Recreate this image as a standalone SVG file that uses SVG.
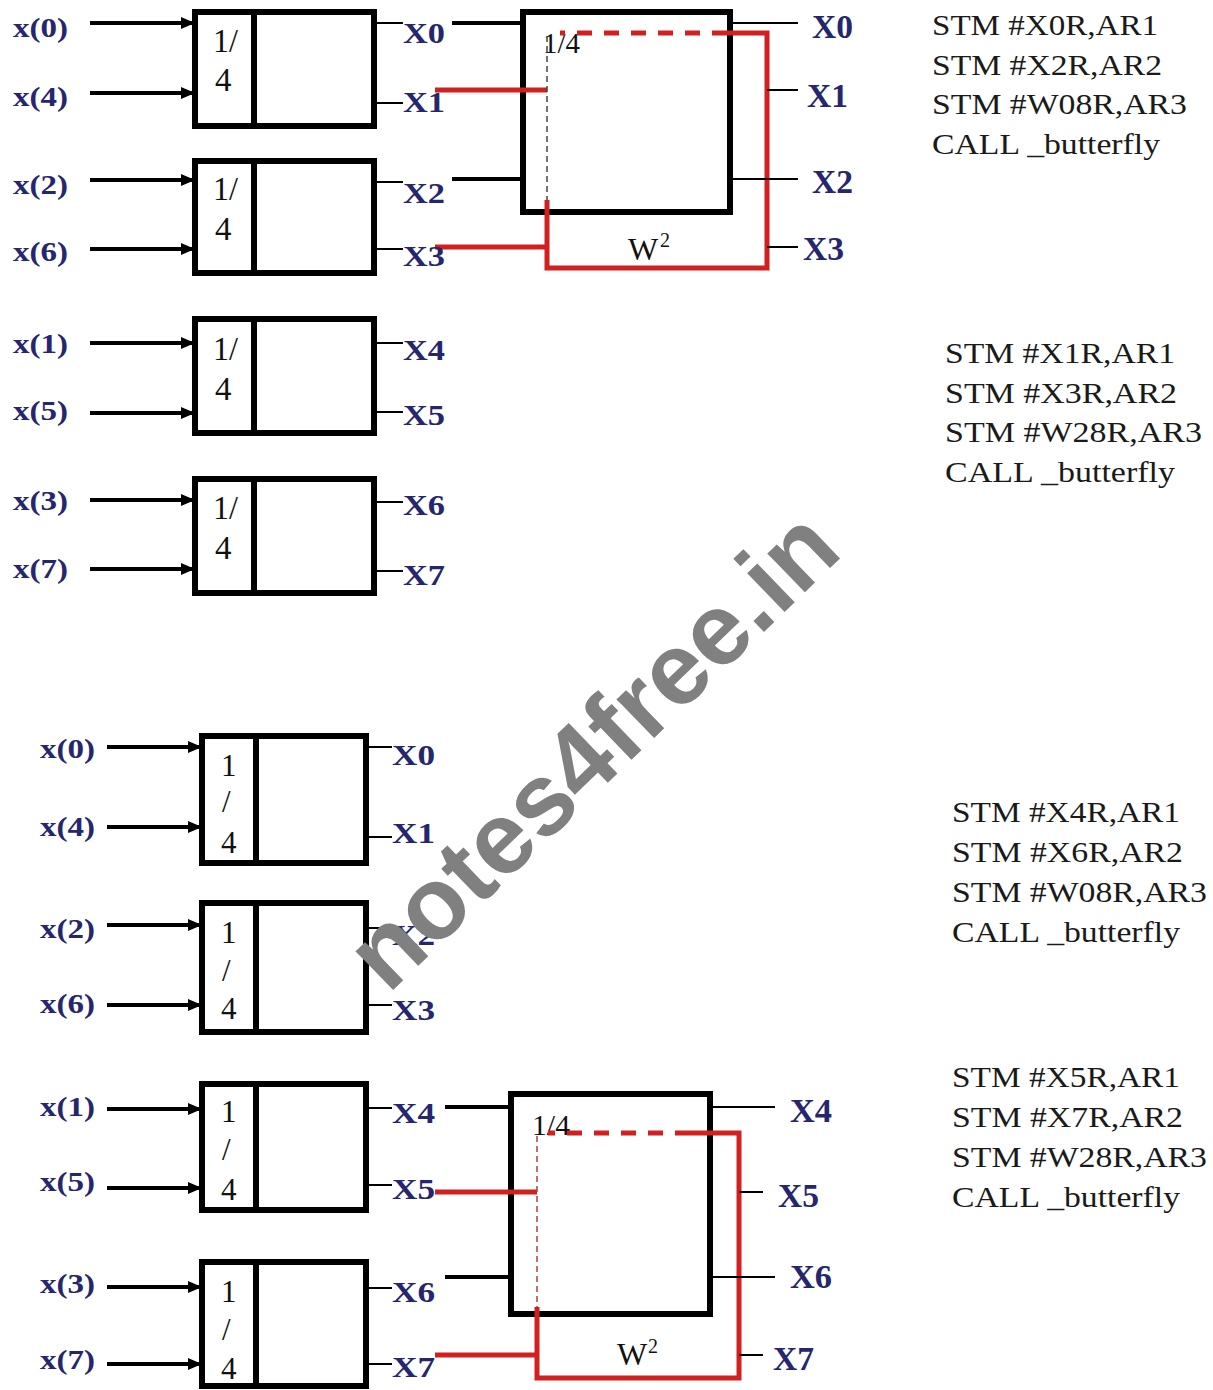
<svg xmlns="http://www.w3.org/2000/svg" width="1213" height="1390" viewBox="0 0 1213 1390">
<style>
.blk{fill:none;stroke:#000;stroke-width:6}
.div{stroke:#000;stroke-width:6}
.in{stroke:#000;stroke-width:4;marker-end:url(#ah)}
.out{stroke:#000;stroke-width:2}
.bin{stroke:#000;stroke-width:4}
.red{stroke:#d21f1f;stroke-width:5;fill:none}
.rdash{stroke:#d21f1f;stroke-width:5;stroke-dasharray:15 12;fill:none}
.tdash{stroke:#444;stroke-width:1.5;stroke-dasharray:6 4;fill:none}
.tdashr{stroke:#b04040;stroke-width:1.5;stroke-dasharray:6 4;fill:none}
.lbl{font-family:"Liberation Serif",serif;font-weight:bold;fill:#26266e;font-size:27px}
.ol{font-family:"Liberation Serif",serif;font-weight:bold;fill:#26266e;font-size:30px}
.or{font-family:"Liberation Serif",serif;font-weight:bold;fill:#26266e;font-size:34px}
.num{font-family:"Liberation Serif",serif;fill:#111;font-size:33px}
.num2{font-family:"Liberation Serif",serif;fill:#111;font-size:31px}
.q{font-family:"Liberation Serif",serif;fill:#111;font-size:30px}
.w{font-family:"Liberation Serif",serif;fill:#111;font-size:32px}
.sup{font-family:"Liberation Serif",serif;fill:#111;font-size:20px}
.code{font-family:"Liberation Serif",serif;fill:#1a1a1a;font-size:29px}
.wm{font-family:"Liberation Sans",Arial,sans-serif;font-weight:bold;fill:#808080;font-size:102px}
</style>
<defs>
<marker id="ah" markerUnits="userSpaceOnUse" markerWidth="14" markerHeight="12" refX="14" refY="6" orient="auto">
<path d="M0,0 L14,6 L0,12 z" fill="#000"/>
</marker>
</defs>
<rect width="1213" height="1390" fill="#fff"/>

<!-- top section blocks -->
<g id="blk1"><rect class="blk" x="195" y="12" width="179" height="114"/><line class="div" x1="254" y1="12" x2="254" y2="126"/><text class="num" x="213" y="52" textLength="25" lengthAdjust="spacingAndGlyphs">1/</text><text class="num" x="215" y="91">4</text></g>
<g id="blk2"><rect class="blk" x="195" y="161" width="179" height="112"/><line class="div" x1="254" y1="161" x2="254" y2="273"/><text class="num" x="213" y="200" textLength="25" lengthAdjust="spacingAndGlyphs">1/</text><text class="num" x="215" y="240">4</text></g>
<g id="blk3"><rect class="blk" x="195" y="319" width="179" height="114"/><line class="div" x1="254" y1="319" x2="254" y2="433"/><text class="num" x="213" y="360" textLength="25" lengthAdjust="spacingAndGlyphs">1/</text><text class="num" x="215" y="400">4</text></g>
<g id="blk4"><rect class="blk" x="195" y="479" width="179" height="114"/><line class="div" x1="254" y1="479" x2="254" y2="593"/><text class="num" x="213" y="519" textLength="25" lengthAdjust="spacingAndGlyphs">1/</text><text class="num" x="215" y="559">4</text></g>

<!-- top butterfly -->
<g id="bf1"><rect class="blk" x="523" y="12" width="207" height="200"/><text class="q" x="543" y="53" textLength="37" lengthAdjust="spacingAndGlyphs">1/4</text><text class="w" x="628" y="260">W</text><text class="sup" x="660" y="247">2</text></g>

<!-- bottom section blocks -->
<g id="blk5"><rect class="blk" x="202" y="736" width="164" height="127"/><line class="div" x1="256" y1="736" x2="256" y2="863"/><text class="num2" x="221" y="776">1</text><text class="num2" x="222" y="812">/</text><text class="num2" x="221" y="853">4</text></g>
<g id="blk6"><rect class="blk" x="202" y="903" width="164" height="129"/><line class="div" x1="256" y1="903" x2="256" y2="1032"/><text class="num2" x="221" y="943">1</text><text class="num2" x="222" y="981">/</text><text class="num2" x="221" y="1019">4</text></g>
<g id="blk7"><rect class="blk" x="202" y="1084" width="164" height="126"/><line class="div" x1="256" y1="1084" x2="256" y2="1210"/><text class="num2" x="221" y="1122">1</text><text class="num2" x="222" y="1160">/</text><text class="num2" x="221" y="1200">4</text></g>
<g id="blk8"><rect class="blk" x="202" y="1262" width="164" height="124"/><line class="div" x1="256" y1="1262" x2="256" y2="1386"/><text class="num2" x="221" y="1302">1</text><text class="num2" x="222" y="1340">/</text><text class="num2" x="221" y="1379">4</text></g>

<!-- bottom butterfly -->
<g id="bf2"><rect class="blk" x="511" y="1094" width="199" height="220"/><text class="q" x="532" y="1135" textLength="38" lengthAdjust="spacingAndGlyphs">1/4</text><text class="w" x="617" y="1365">W</text><text class="sup" x="648" y="1353">2</text></g>

<!-- connectors -->
<g id="connectors">
<line class="in" x1="90" y1="23" x2="195" y2="23"/>
<line class="in" x1="90" y1="93" x2="195" y2="93"/>
<line class="in" x1="90" y1="180" x2="195" y2="180"/>
<line class="in" x1="90" y1="249" x2="195" y2="249"/>
<line class="in" x1="90" y1="343" x2="195" y2="343"/>
<line class="in" x1="90" y1="413" x2="195" y2="413"/>
<line class="in" x1="90" y1="500" x2="195" y2="500"/>
<line class="in" x1="90" y1="569" x2="195" y2="569"/>
<line class="out" x1="374" y1="23" x2="403" y2="23"/>
<line class="out" x1="374" y1="103" x2="403" y2="103"/>
<line class="out" x1="374" y1="182" x2="403" y2="182"/>
<line class="out" x1="374" y1="249" x2="403" y2="249"/>
<line class="out" x1="374" y1="343" x2="403" y2="343"/>
<line class="out" x1="374" y1="412" x2="403" y2="412"/>
<line class="out" x1="374" y1="502" x2="403" y2="502"/>
<line class="out" x1="374" y1="571" x2="403" y2="571"/>
<line class="bin" x1="452" y1="23" x2="523" y2="23"/>
<line class="bin" x1="452" y1="179" x2="523" y2="179"/>
<line class="red" x1="435" y1="90" x2="547" y2="90"/>
<line class="red" x1="435" y1="247" x2="547" y2="247"/>
<line class="tdash" x1="547" y1="36" x2="547" y2="200"/>
<path class="red" d="M547,200 L547,268 L767,268 L767,33 L727,33"/>
<line class="rdash" x1="727" y1="33" x2="560" y2="33"/>
<line class="out" x1="730" y1="23" x2="798" y2="23"/>
<line class="out" x1="767" y1="90" x2="798" y2="90"/>
<line class="out" x1="730" y1="179" x2="798" y2="179"/>
<line class="out" x1="767" y1="247" x2="798" y2="247"/>

<line class="in" x1="107" y1="747" x2="202" y2="747"/>
<line class="in" x1="107" y1="827" x2="202" y2="827"/>
<line class="in" x1="107" y1="925" x2="202" y2="925"/>
<line class="in" x1="107" y1="1005" x2="202" y2="1005"/>
<line class="in" x1="107" y1="1109" x2="202" y2="1109"/>
<line class="in" x1="107" y1="1188" x2="202" y2="1188"/>
<line class="in" x1="107" y1="1287" x2="202" y2="1287"/>
<line class="in" x1="107" y1="1364" x2="202" y2="1364"/>
<line class="out" x1="366" y1="747" x2="392" y2="747"/>
<line class="out" x1="366" y1="837" x2="392" y2="837"/>
<line class="out" x1="366" y1="928" x2="392" y2="928"/>
<line class="out" x1="366" y1="1005" x2="392" y2="1005"/>
<line class="out" x1="366" y1="1108" x2="392" y2="1108"/>
<line class="out" x1="366" y1="1185" x2="392" y2="1185"/>
<line class="out" x1="366" y1="1288" x2="392" y2="1288"/>
<line class="out" x1="366" y1="1364" x2="392" y2="1364"/>
<line class="bin" x1="445" y1="1107" x2="511" y2="1107"/>
<line class="bin" x1="445" y1="1277" x2="511" y2="1277"/>
<line class="red" x1="435" y1="1192" x2="537" y2="1192"/>
<line class="red" x1="435" y1="1355" x2="537" y2="1355"/>
<line class="tdashr" x1="537" y1="1136" x2="537" y2="1307"/>
<path class="red" d="M537,1307 L537,1378 L739,1378 L739,1133 L690,1133"/>
<line class="rdash" x1="690" y1="1133" x2="548" y2="1133"/>
<line class="out" x1="710" y1="1107" x2="775" y2="1107"/>
<line class="out" x1="739" y1="1192" x2="763" y2="1192"/>
<line class="out" x1="710" y1="1277" x2="775" y2="1277"/>
<line class="out" x1="739" y1="1355" x2="763" y2="1355"/>
</g>

<!-- input labels -->
<g id="inlabels">
<text class="lbl" x="13" y="37" textLength="55" lengthAdjust="spacingAndGlyphs">x(0)</text>
<text class="lbl" x="13" y="106" textLength="55" lengthAdjust="spacingAndGlyphs">x(4)</text>
<text class="lbl" x="13" y="194" textLength="55" lengthAdjust="spacingAndGlyphs">x(2)</text>
<text class="lbl" x="13" y="261" textLength="55" lengthAdjust="spacingAndGlyphs">x(6)</text>
<text class="lbl" x="13" y="353" textLength="55" lengthAdjust="spacingAndGlyphs">x(1)</text>
<text class="lbl" x="13" y="420" textLength="55" lengthAdjust="spacingAndGlyphs">x(5)</text>
<text class="lbl" x="13" y="510" textLength="55" lengthAdjust="spacingAndGlyphs">x(3)</text>
<text class="lbl" x="13" y="578" textLength="55" lengthAdjust="spacingAndGlyphs">x(7)</text>
<text class="lbl" x="40" y="758" textLength="55" lengthAdjust="spacingAndGlyphs">x(0)</text>
<text class="lbl" x="40" y="836" textLength="55" lengthAdjust="spacingAndGlyphs">x(4)</text>
<text class="lbl" x="40" y="938" textLength="55" lengthAdjust="spacingAndGlyphs">x(2)</text>
<text class="lbl" x="40" y="1013" textLength="55" lengthAdjust="spacingAndGlyphs">x(6)</text>
<text class="lbl" x="40" y="1116" textLength="55" lengthAdjust="spacingAndGlyphs">x(1)</text>
<text class="lbl" x="40" y="1191" textLength="55" lengthAdjust="spacingAndGlyphs">x(5)</text>
<text class="lbl" x="40" y="1293" textLength="55" lengthAdjust="spacingAndGlyphs">x(3)</text>
<text class="lbl" x="40" y="1369" textLength="55" lengthAdjust="spacingAndGlyphs">x(7)</text>
</g>

<!-- output labels -->
<g id="outlabels">
<text class="ol" x="403" y="43" textLength="42" lengthAdjust="spacingAndGlyphs">X0</text>
<text class="ol" x="403" y="112" textLength="42" lengthAdjust="spacingAndGlyphs">X1</text>
<text class="ol" x="403" y="203" textLength="42" lengthAdjust="spacingAndGlyphs">X2</text>
<text class="ol" x="403" y="266" textLength="42" lengthAdjust="spacingAndGlyphs">X3</text>
<text class="ol" x="403" y="360" textLength="42" lengthAdjust="spacingAndGlyphs">X4</text>
<text class="ol" x="403" y="425" textLength="42" lengthAdjust="spacingAndGlyphs">X5</text>
<text class="ol" x="403" y="515" textLength="42" lengthAdjust="spacingAndGlyphs">X6</text>
<text class="ol" x="403" y="585" textLength="42" lengthAdjust="spacingAndGlyphs">X7</text>
<text class="or" x="812" y="38" textLength="41" lengthAdjust="spacingAndGlyphs">X0</text>
<text class="or" x="807" y="107" textLength="41" lengthAdjust="spacingAndGlyphs">X1</text>
<text class="or" x="812" y="193" textLength="41" lengthAdjust="spacingAndGlyphs">X2</text>
<text class="or" x="803" y="260" textLength="41" lengthAdjust="spacingAndGlyphs">X3</text>
<text class="ol" x="392" y="765" textLength="43" lengthAdjust="spacingAndGlyphs">X0</text>
<text class="ol" x="392" y="843" textLength="43" lengthAdjust="spacingAndGlyphs">X1</text>
<text class="ol" x="392" y="945" textLength="43" lengthAdjust="spacingAndGlyphs">X2</text>
<text class="ol" x="392" y="1020" textLength="43" lengthAdjust="spacingAndGlyphs">X3</text>
<text class="ol" x="392" y="1123" textLength="43" lengthAdjust="spacingAndGlyphs">X4</text>
<text class="ol" x="392" y="1199" textLength="43" lengthAdjust="spacingAndGlyphs">X5</text>
<text class="ol" x="392" y="1302" textLength="43" lengthAdjust="spacingAndGlyphs">X6</text>
<text class="ol" x="392" y="1377" textLength="43" lengthAdjust="spacingAndGlyphs">X7</text>
<text class="or" x="790" y="1122" textLength="42" lengthAdjust="spacingAndGlyphs">X4</text>
<text class="or" x="778" y="1207" textLength="41" lengthAdjust="spacingAndGlyphs">X5</text>
<text class="or" x="790" y="1288" textLength="42" lengthAdjust="spacingAndGlyphs">X6</text>
<text class="or" x="773" y="1370" textLength="41" lengthAdjust="spacingAndGlyphs">X7</text>
</g>

<!-- code blocks -->
<g id="code1">
<text class="code" x="932" y="35" textLength="226" lengthAdjust="spacingAndGlyphs">STM #X0R,AR1</text>
<text class="code" x="932" y="75" textLength="230" lengthAdjust="spacingAndGlyphs">STM #X2R,AR2</text>
<text class="code" x="932" y="114" textLength="255" lengthAdjust="spacingAndGlyphs">STM #W08R,AR3</text>
<text class="code" x="932" y="154" textLength="228" lengthAdjust="spacingAndGlyphs">CALL _butterfly</text>
</g>
<g id="code2">
<text class="code" x="945" y="363" textLength="230" lengthAdjust="spacingAndGlyphs">STM #X1R,AR1</text>
<text class="code" x="945" y="403" textLength="232" lengthAdjust="spacingAndGlyphs">STM #X3R,AR2</text>
<text class="code" x="945" y="442" textLength="257" lengthAdjust="spacingAndGlyphs">STM #W28R,AR3</text>
<text class="code" x="945" y="482" textLength="230" lengthAdjust="spacingAndGlyphs">CALL _butterfly</text>
</g>
<g id="code3">
<text class="code" x="952" y="822" textLength="228" lengthAdjust="spacingAndGlyphs">STM #X4R,AR1</text>
<text class="code" x="952" y="862" textLength="231" lengthAdjust="spacingAndGlyphs">STM #X6R,AR2</text>
<text class="code" x="952" y="902" textLength="255" lengthAdjust="spacingAndGlyphs">STM #W08R,AR3</text>
<text class="code" x="952" y="942" textLength="228" lengthAdjust="spacingAndGlyphs">CALL _butterfly</text>
</g>
<g id="code4">
<text class="code" x="952" y="1087" textLength="228" lengthAdjust="spacingAndGlyphs">STM #X5R,AR1</text>
<text class="code" x="952" y="1127" textLength="231" lengthAdjust="spacingAndGlyphs">STM #X7R,AR2</text>
<text class="code" x="952" y="1167" textLength="255" lengthAdjust="spacingAndGlyphs">STM #W28R,AR3</text>
<text class="code" x="952" y="1207" textLength="228" lengthAdjust="spacingAndGlyphs">CALL _butterfly</text>
</g>

<!-- watermark -->
<text class="wm" transform="translate(388,995) rotate(-44)">notes4free.in</text>
</svg>
